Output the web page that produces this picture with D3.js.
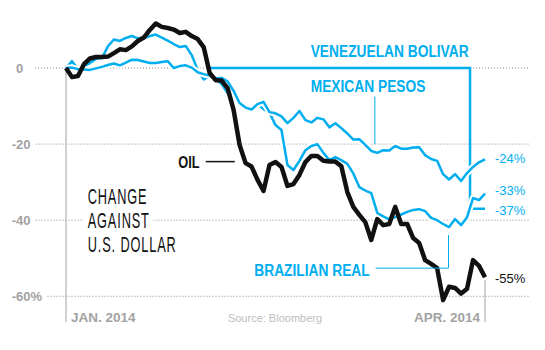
<!DOCTYPE html>
<html>
<head>
<meta charset="utf-8">
<script src="https://cdn.jsdelivr.net/npm/d3@7"></script>
<style>
  body { margin: 0; background: #fff; }
  svg { display: block; font-family: "Liberation Sans", Arial, Helvetica, sans-serif; }
</style>
</head>
<body>
<svg id="chart" width="545" height="350"></svg>
<script>
// weekly change against the US dollar, percent
const mexicanPeso = [0, 0.1, -0.3, -0.4, -0.5, -0.1, 0.3, 0.8, 1.2, 0.7, 1.4, 2.2, 2.1, 1.7, 1.3, 1.3, 1.6, 1.8, 0, 0.5,
    0.7, 0.1, -1.1, -1.6, -2.0, -2.7, -2.6, -3.5, -6.0, -9.2, -10.4, -10.9, -9.5, -8.9, -11.6, -11.9, -12.7, -14.5, -13.1, -11.3,
    -13.7, -14.3, -13.1, -13.5, -15.6, -14.5, -15.8, -17.2, -18.8, -18.7, -20.2, -21.8, -22.3, -21.6, -21.7, -20.5, -21.2, -21.2, -20.9, -20.8,
    -22.9, -23.9, -24.4, -27.9, -29.3, -27.9, -29.7, -27.6, -26.0, -24.8, -24];
const brazilianReal = [0, 1.8, -0.3, 0.5, 1.3, 2.4, 2.6, 5.7, 7.5, 7.1, 7.9, 8.4, 7.8, 7.8, 8.4, 8.8, 8.0, 7.2, 6.3, 5.5,
    5.8, 3.4, -0.5, -3.0, -2.1, -2.9, -4.2, -6.6, -6.0, -8.7, -10.0, -10.5, -9.5, -10.8, -11.8, -15.0, -16.3, -25.5, -26.8, -24.4,
    -21.6, -20.5, -20.0, -22.3, -24.2, -23.4, -24.2, -25.2, -27.7, -31.3, -32.2, -32.9, -38.1, -39.0, -39.8, -39.2, -38.5, -37.8, -37.3, -37.1,
    -37.6, -39.4, -40.0, -41.0, -41.8, -39.7, -41.3, -39.2, -34.2, -34.7, -33];
const venezuelanBolivar = [null, null, null, null, null, null, null, null, null, null, null, null, null, null, null, null, null, null, null, null,
    null, null, null, null, 0, 0, 0, 0, 0, 0, 0, 0, 0, 0, 0, 0, 0, 0, 0, 0,
    0, 0, 0, 0, 0, 0, 0, 0, 0, 0, 0, 0, 0, 0, 0, 0, 0, 0, 0, 0,
    0, 0, 0, 0, 0, 0, 0, 0, -37, -37, -37];
const oil = [0, -2.4, -2.1, 1.0, 2.5, 2.9, 2.9, 3.0, 3.9, 4.9, 4.7, 5.7, 7.1, 8.0, 10.0, 11.7, 10.8, 10.5, 10.1, 9.2,
    9.5, 8.4, 7.6, 5.5, -1.3, -3.2, -3.3, -5.3, -11.0, -20.2, -25.0, -25.9, -29.4, -32.3, -25.5, -24.7, -26.0, -31.0, -30.5, -28.1,
    -24.7, -23.1, -23.1, -24.4, -24.6, -24.6, -25.8, -32.6, -36.5, -38.6, -40.5, -45.2, -39.7, -41.3, -41.0, -36.5, -41.0, -41.0, -44.7, -46.0,
    -50.5, -51.5, -52.6, -61.0, -57.5, -57.8, -59.3, -58.0, -50.5, -52.0, -55];

const yTicks = [0, -20, -40, -60];
const yTickLabels = ["0", "-20", "-40", "-60%"];
const dateLabels = ["JAN. 2014", "APR. 2014"];
const endLabels = ["-24%", "-33%", "-37%", "-55%"];

const blue = "#00aeef";
const black = "#111";
const grey = "#a2a2a2";

const svg = d3.select("#chart");
const weeks = d3.range(oil.length);

const x = d3.scaleLinear().domain([0, weeks.length - 1]).range([66, 485]);
const y = d3.scaleLinear().domain([0, -60]).range([68, 296.3]);
const bottom = 322;

// condensed text: scale a normal face horizontally
function condensed(g, txt, px, py, size, weight, color, sx, spacing) {
    return g.append("text")
        .attr("transform", `translate(${px},${py}) scale(${sx},1)`)
        .attr("font-size", size)
        .attr("font-weight", weight)
        .attr("letter-spacing", spacing || 0)
        .attr("fill", color)
        .text(txt);
}

// y grid + labels
const grid = svg.append("g");
yTicks.forEach((t, i) => {
    const lbl = grid.append("text")
        .attr("y", y(t) + 4.6)
        .attr("font-size", 13)
        .attr("font-weight", "bold")
        .attr("fill", grey)
        .text(yTickLabels[i]);
    const minus = t < 0 ? 4.3 : 0;
    lbl.attr("x", 16 - minus);
    const bb = lbl.node().getBBox();
    grid.append("line")
        .attr("x1", Math.max(35, bb.x + bb.width + 5))
        .attr("x2", 530)
        .attr("y1", y(t)).attr("y2", y(t))
        .attr("stroke", "#8a8a8a")
        .attr("stroke-width", 1)
        .attr("stroke-dasharray", "1,2");
});

// big caption, white boxes break the grid behind it
const caption = ["CHANGE", "AGAINST", "U.S. DOLLAR"];
const capG = svg.append("g");
caption.forEach((c, i) => {
    const t = condensed(capG, c, 87.7, 204.3 + i * 24, 22, "normal", black, 0.58, 1.5);
    const bb = t.node().getBBox();
    const w = bb.width * 0.58;
    capG.insert("rect", "text")
        .attr("x", 87.7 - 5).attr("y", 204.3 + i * 24 - 17)
        .attr("width", w + 8).attr("height", 18)
        .attr("fill", "#fff");
});

// axes lines
svg.append("line")
    .attr("x1", x(0)).attr("x2", x(0))
    .attr("y1", y(0)).attr("y2", bottom)
    .attr("stroke", grey).attr("stroke-width", 1);
svg.append("line")
    .attr("x1", x(weeks.length - 1)).attr("x2", x(weeks.length - 1))
    .attr("y1", y(oil[oil.length - 1]) + 3).attr("y2", bottom)
    .attr("stroke", grey).attr("stroke-width", 1);

svg.append("text")
    .attr("x", x(0) + 5).attr("y", 321.7)
    .attr("font-size", 13.5).attr("font-weight", "bold").attr("fill", grey)
    .text(dateLabels[0]);
svg.append("text")
    .attr("x", x(weeks.length - 1) - 5).attr("y", 321.7)
    .attr("text-anchor", "end")
    .attr("font-size", 13.5).attr("font-weight", "bold").attr("fill", grey)
    .text(dateLabels[1]);
svg.append("text")
    .attr("x", 275).attr("y", 321.7)
    .attr("text-anchor", "middle")
    .attr("font-size", 11).attr("fill", "#bdbdbd")
    .text("Source: Bloomberg");

// lines
const line = d3.line()
    .defined(d => d !== null)
    .x((d, i) => x(i))
    .y(d => y(d));

svg.append("path")
    .datum(venezuelanBolivar)
    .attr("d", line.curve(d3.curveStep))
    .attr("fill", "none")
    .attr("stroke", blue)
    .attr("stroke-width", 2.5);
line.curve(d3.curveLinear);

[brazilianReal, mexicanPeso].forEach(s => {
    svg.append("path")
        .datum(s)
        .attr("d", line)
        .attr("fill", "none")
        .attr("stroke", "#fff")
        .attr("stroke-width", 6.5)
        .attr("stroke-linejoin", "round");
    svg.append("path")
        .datum(s)
        .attr("d", line)
        .attr("fill", "none")
        .attr("stroke", blue)
        .attr("stroke-width", 2.5)
        .attr("stroke-linejoin", "round");
});

svg.append("path")
    .datum(oil)
    .attr("d", line)
    .attr("fill", "none")
    .attr("stroke", black)
    .attr("stroke-width", 4.5)
    .attr("stroke-linejoin", "round");

// series labels
const labels = svg.append("g");
condensed(labels, "VENEZUELAN BOLIVAR", 310.7, 56.7, 17, "bold", blue, 0.81);
condensed(labels, "MEXICAN PESOS", 310.7, 91.7, 17, "bold", blue, 0.81);
const brLabel = condensed(labels, "BRAZILIAN REAL", 254.3, 276, 17, "bold", blue, 0.81);
const oilLabel = condensed(labels, "OIL", 178.3, 167.7, 16, "bold", black, 0.8);

// leaders
svg.append("line")
    .attr("x1", x(51.6)).attr("x2", x(51.6))
    .attr("y1", y(-7.5)).attr("y2", y(-20))
    .attr("stroke", blue).attr("stroke-width", 1);

const brEnd = 254.3 + brLabel.node().getBBox().width * 0.81 + 6;
svg.append("path")
    .attr("d", `M${brEnd},${y(-52.6)}H${x(63.9)}V${y(-43.9)}`)
    .attr("fill", "none")
    .attr("stroke", blue).attr("stroke-width", 1);

const oilEnd = 178.3 + oilLabel.node().getBBox().width * 0.8 + 6;
svg.append("line")
    .attr("x1", oilEnd).attr("x2", x(28.2))
    .attr("y1", y(-24.6)).attr("y2", y(-24.6))
    .attr("stroke", black).attr("stroke-width", 1.5);

// end values
const ends = [
    { v: mexicanPeso[mexicanPeso.length - 1], c: blue, dy: 3.5 },
    { v: brazilianReal[brazilianReal.length - 1], c: blue, dy: 1.5 },
    { v: venezuelanBolivar[venezuelanBolivar.length - 1], c: blue, dy: 6 },
    { v: oil[oil.length - 1], c: black, dy: 6 }
];
ends.forEach((e, i) => {
    svg.append("text")
        .attr("x", 495)
        .attr("y", y(e.v) + e.dy)
        .attr("font-size", 13)
        .attr("fill", e.c)
        .text(endLabels[i]);
});
</script>
</body>
</html>
